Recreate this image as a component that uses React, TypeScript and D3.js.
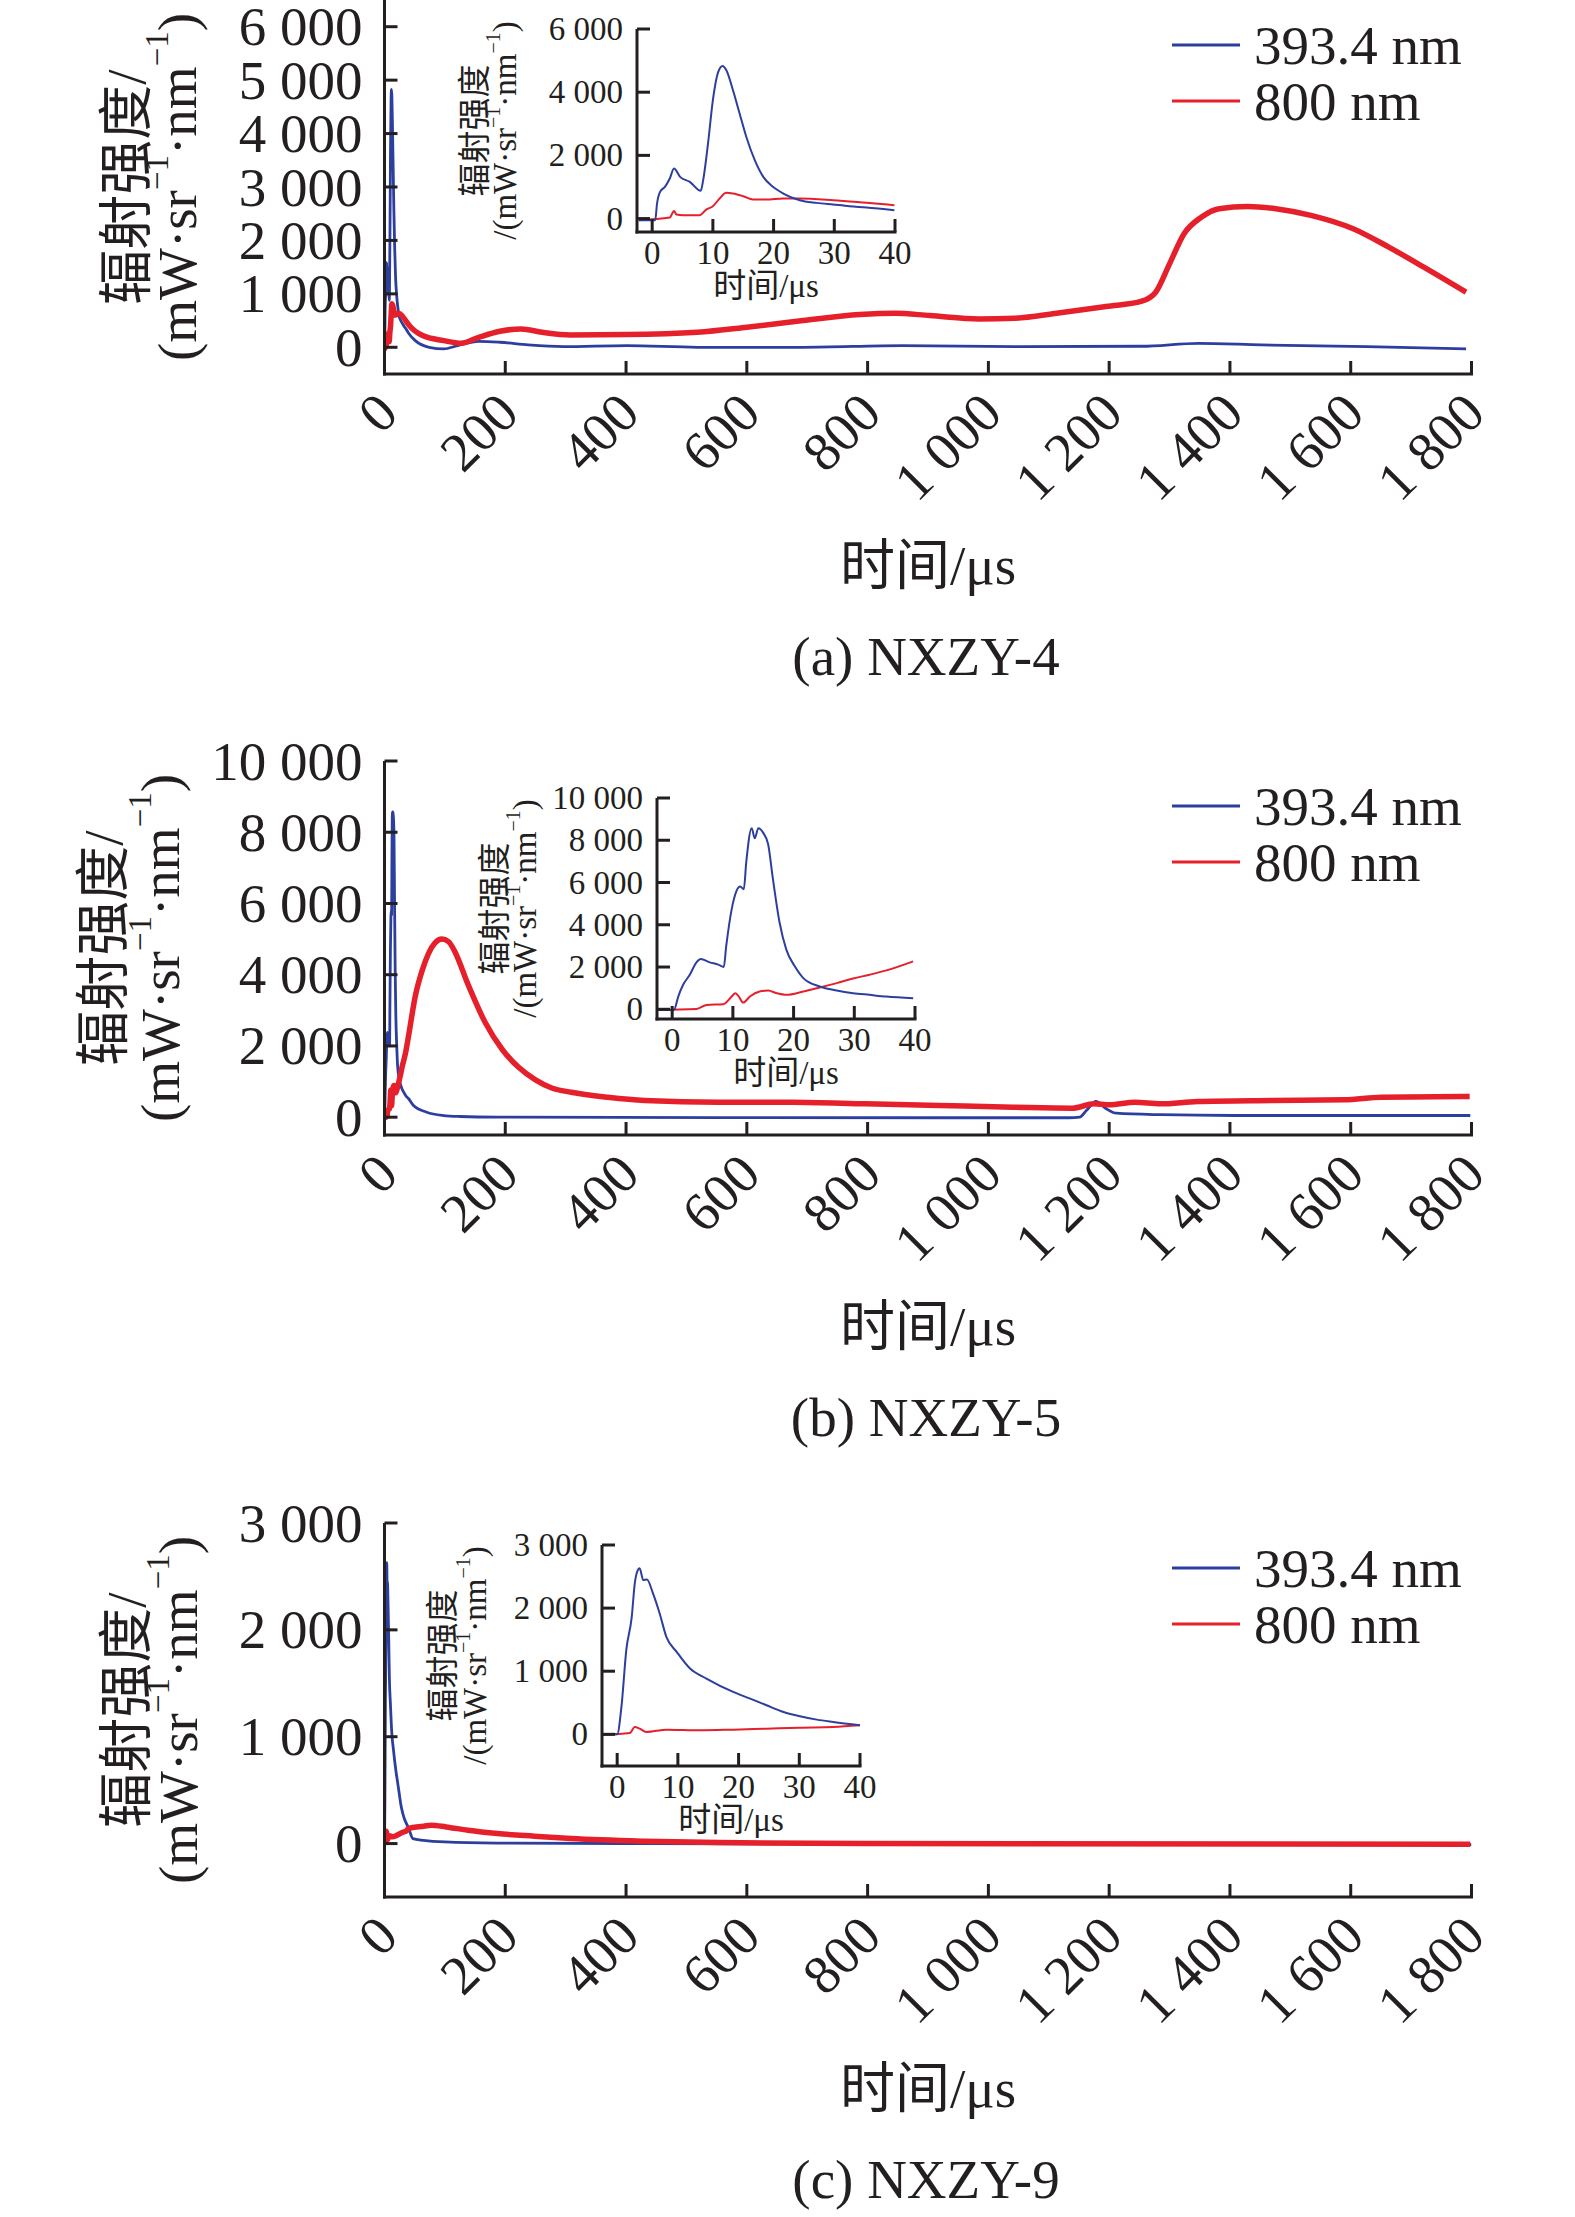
import React from 'react'
import * as d3 from 'd3'

type Pt = [number, number]

const BLUE = '#2d3f9e'
const RED = '#e5202b'
const INK = '#231f20'
const FONT = '"Liberation Serif", "Times New Roman", "Noto Sans CJK SC", serif'

// labels
const legendLabels = ['393.4 nm', '800 nm']
const captions = ['(a) NXZY-4', '(b) NXZY-5', '(c) NXZY-9']
const xTitle = '时间/μs'
const mainXTicks = [0, 200, 400, 600, 800, 1000, 1200, 1400, 1600, 1800]
const insetXTicks = [0, 10, 20, 30, 40]
const mainYTicksA = [0, 1000, 2000, 3000, 4000, 5000, 6000]
const mainYTicksB = [0, 2000, 4000, 6000, 8000, 10000]
const mainYTicksC = [0, 1000, 2000, 3000]
const insetYTicksA = [0, 2000, 4000, 6000]
const insetYTicksB = [0, 2000, 4000, 6000, 8000, 10000]
const insetYTicksC = [0, 1000, 2000, 3000]

// NXZY-4, first 40 us (inset), [time us, intensity]
const insetBlueA: Pt[] = [[-2.2, -50], [0.5, -50], [0.8, 475], [1.3, 845], [2.1, 1004], [2.9, 1268], [3.6, 1585], [4.6, 1320], [6.2, 1162], [8.0, 877], [8.4, 1215], [9.2, 2377], [10.0, 3750], [10.9, 4649], [11.6, 4828], [12.2, 4700], [13.3, 4068], [14.4, 3328], [15.5, 2589], [16.9, 1849], [18.3, 1320], [19.9, 1004], [21.6, 792], [24.3, 581], [27.1, 497], [29.8, 444], [32.5, 391], [35.3, 349], [39.9, 264]]
const insetRedA: Pt[] = [[-2.2, -50], [2.9, 32], [3.3, 158], [3.6, 243], [4.0, 127], [5.1, 106], [7.8, 106], [8.9, 285], [10.0, 391], [11.1, 634], [12.2, 814], [13.3, 792], [15.0, 708], [16.6, 602], [18.8, 602], [21.6, 634], [24.3, 634], [29.8, 581], [35.3, 497], [39.9, 423]]
// NXZY-4, rest of the record
const tailBlueA: Pt[] = [[51, 125], [74, 0], [98, -31], [121, 31], [156, 112], [191, 94], [238, 44], [296, 12], [401, 31], [518, 0], [693, 0], [857, 31], [1044, 12], [1254, 19], [1348, 75], [1452, 44], [1627, 12], [1791, -31]]
const tailRedA: Pt[] = [[63, 219], [98, 125], [127, 75], [156, 187], [191, 300], [226, 344], [261, 281], [308, 231], [401, 237], [518, 281], [600, 375], [693, 500], [787, 612], [845, 637], [903, 594], [985, 531], [1044, 544], [1113, 637], [1195, 762], [1254, 862], [1277, 1031], [1300, 1562], [1324, 2125], [1353, 2437], [1382, 2594], [1429, 2637], [1476, 2594], [1534, 2469], [1604, 2219], [1663, 1875], [1721, 1500], [1791, 1031]]

// NXZY-5
const insetBlueB: Pt[] = [[-2.6, -30], [0.3, -30], [1.0, 603], [1.8, 1159], [2.9, 1635], [4.0, 2222], [4.7, 2381], [6.2, 2222], [7.6, 2111], [8.5, 2000], [8.9, 2984], [9.8, 4730], [10.6, 5603], [11.2, 5810], [11.8, 5683], [12.2, 6952], [13.1, 8571], [13.6, 8095], [14.2, 8571], [15.0, 8349], [15.8, 7825], [16.6, 6159], [17.7, 4095], [18.8, 2825], [20.2, 2032], [21.6, 1476], [24.3, 1079], [27.1, 889], [29.8, 762], [32.5, 683], [35.3, 603], [39.7, 524]]
const insetRedB: Pt[] = [[-2.6, -30], [4.0, 16], [5.7, 206], [8.4, 238], [9.8, 603], [10.4, 762], [10.9, 635], [11.7, 317], [12.8, 603], [14.4, 841], [15.8, 889], [17.2, 762], [18.8, 683], [21.6, 841], [24.3, 1032], [27.1, 1238], [29.8, 1460], [32.5, 1635], [35.3, 1841], [39.7, 2270]]
const tailBlueB: Pt[] = [[48, 328], [70, 140], [98, 47], [125, 19], [187, 0], [553, -10], [919, -15], [1133, -15], [1151, 0], [1163, 200], [1178, 440], [1194, 250], [1212, 112], [1285, 70], [1407, 47], [1798, 47]]
const tailRedB: Pt[] = [[51, 3400], [62, 4100], [73, 4600], [84, 4900], [95, 5000], [106, 4930], [115, 4700], [139, 3700], [167, 2650], [195, 1900], [222, 1400], [250, 1050], [277, 820], [309, 700], [370, 560], [431, 470], [553, 421], [675, 421], [797, 375], [919, 328], [1041, 281], [1139, 253], [1175, 375], [1200, 346], [1243, 421], [1285, 375], [1346, 440], [1468, 468], [1590, 487], [1651, 562], [1797, 580]]

// NXZY-9
const insetBlueC: Pt[] = [[-2.3, -5], [0, 0], [0.7, 434], [1.5, 1333], [2.4, 1862], [2.9, 2392], [3.3, 2577], [3.7, 2630], [4.3, 2444], [4.9, 2455], [5.9, 2233], [7.0, 1915], [8.1, 1545], [9.8, 1307], [12.0, 1042], [14.7, 884], [19.1, 672], [21.9, 566], [24.6, 460], [27.4, 354], [30.1, 286], [32.9, 233], [35.6, 196], [40, 143]]
const insetRedC: Pt[] = [[-2.3, -5], [2.1, 21], [2.9, 116], [3.7, 90], [4.8, 37], [8.1, 74], [13.6, 63], [19.1, 74], [24.6, 90], [30.1, 106], [35.6, 116], [40, 143]]
const tailBlueC: Pt[] = [[47, 47], [65, 30], [100, 15], [187, 5], [431, 0], [800, -5], [1800, -10]]
const tailRedC: Pt[] = [[65, 162], [77, 172], [102, 156], [138, 125], [187, 94], [248, 69], [309, 47], [431, 22], [553, 9], [797, 0], [1798, -6]]

const fmt = (v: number) => d3.format(',')(v).replace(/,/g, ' ')

interface InsetCfg {
  left: number
  right: number
  top: number
  bottom: number
  yDomain: [number, number]
  yTicks: number[]
  titleDx: [number, number]
}

interface PanelCfg {
  top: number
  yDomain: [number, number]
  yTicks: number[]
  titleX: [number, number]
  inset: InsetCfg
  blueInset: Pt[]
  redInset: Pt[]
  blueTail: Pt[]
  redTail: Pt[]
  caption: string
}

const panels: PanelCfg[] = [
  {
    top: 0, yDomain: [-500, 6500], yTicks: mainYTicksA, titleX: [126, 177],
    inset: { left: 637, right: 895, top: 29, bottom: 232, yDomain: [-425, 6000], yTicks: insetYTicksA, titleDx: [-162, -132] },
    blueInset: insetBlueA, redInset: insetRedA, blueTail: tailBlueA, redTail: tailRedA, caption: captions[0]
  },
  {
    top: 761, yDomain: [-500, 10000], yTicks: mainYTicksB, titleX: [103, 160],
    inset: { left: 657, right: 915, top: 798, bottom: 1019, yDomain: [-460, 10000], yTicks: insetYTicksB, titleDx: [-162, -132] },
    blueInset: insetBlueB, redInset: insetRedB, blueTail: tailBlueB, redTail: tailRedB, caption: captions[1]
  },
  {
    top: 1523, yDomain: [-500, 3000], yTicks: mainYTicksC, titleX: [126, 178],
    inset: { left: 602, right: 860, top: 1545, bottom: 1766, yDomain: [-502, 3000], yTicks: insetYTicksC, titleDx: [-159, -127] },
    blueInset: insetBlueC, redInset: insetRedC, blueTail: tailBlueC, redTail: tailRedC, caption: captions[2]
  }
]

const X0 = 384.5
const X1 = 1471.5
const PH = 374
const TICK = 13

const UnitText = ({ size, lead }: { size: number; lead: string }) => {
  const s = Math.round(size * 0.6)
  const d = Math.round(size * 0.36)
  return (
    <>
      {lead}(mW·sr
      <tspan fontSize={s} dy={-d}>−1</tspan>
      <tspan dy={d}>·nm</tspan>
      <tspan fontSize={s} dy={-d}>−1</tspan>
      <tspan dy={d}>)</tspan>
    </>
  )
}

const Panel = ({ cfg, idx }: { cfg: PanelCfg; idx: number }) => {
  const bottom = cfg.top + PH
  const x = d3.scaleLinear().domain([0, 1800]).range([X0, X1])
  const y = d3.scaleLinear().domain(cfg.yDomain).range([bottom, cfg.top])
  const line = d3.line<Pt>().x(d => x(d[0])).y(d => y(d[1])).curve(d3.curveMonotoneX)

  const ins = cfg.inset
  const ix = d3.scaleLinear().domain([-2.5, 40]).range([ins.left, ins.right])
  const iy = d3.scaleLinear().domain(ins.yDomain).range([ins.bottom, ins.top])
  const iline = d3.line<Pt>().x(d => ix(d[0])).y(d => iy(d[1])).curve(d3.curveMonotoneX)

  const blue = [...cfg.blueInset, ...cfg.blueTail]
  const red = [...cfg.redInset, ...cfg.redTail]
  const clipId = `clip-${idx}`
  const cy = cfg.top + PH / 2
  const icy = (ins.top + ins.bottom) / 2
  const midX = (X0 + X1) / 2

  return (
    <g>
      <defs>
        <clipPath id={clipId}>
          <rect x={X0} y={cfg.top} width={X1 - X0} height={PH} />
        </clipPath>
      </defs>

      {/* main curves */}
      <g clipPath={`url(#${clipId})`}>
        <path d={line(blue) ?? ''} fill="none" stroke={BLUE} strokeWidth={2.8} strokeLinejoin="round" />
        <path d={line(red) ?? ''} fill="none" stroke={RED} strokeWidth={5.5} strokeLinejoin="round" />
      </g>

      {/* main axes */}
      <g stroke={INK} strokeWidth={3} fill="none">
        <line x1={X0} x2={X0} y1={cfg.top} y2={bottom + 1.5} />
        <line x1={X0 - 1.5} x2={X1 + 1.5} y1={bottom} y2={bottom} />
        {cfg.yTicks.map(v => (
          <line key={v} x1={X0} x2={X0 + TICK} y1={y(v)} y2={y(v)} />
        ))}
        {mainXTicks.filter(v => v > 0).map(v => (
          <line key={v} x1={x(v)} x2={x(v)} y1={bottom} y2={bottom - TICK} />
        ))}
      </g>
      <g fontFamily={FONT} fontSize={55} fill={INK}>
        {cfg.yTicks.map(v => (
          <text key={v} x={X0 - 22} y={y(v)} textAnchor="end" dominantBaseline="central">{fmt(v)}</text>
        ))}
        {mainXTicks.map(v => (
          <text key={v} transform={`translate(${x(v) + 16},${bottom + 42}) rotate(-45)`} textAnchor="end">{fmt(v)}</text>
        ))}
        <text transform={`translate(${cfg.titleX[0]},${cy}) rotate(-90)`} textAnchor="middle" dominantBaseline="central">辐射强度/</text>
        <text transform={`translate(${cfg.titleX[1]},${cy}) rotate(-90)`} textAnchor="middle" dominantBaseline="central">
          <UnitText size={55} lead="" />
        </text>
        <text x={midX} y={bottom + 191} textAnchor="middle" dominantBaseline="central">{xTitle}</text>
        <text x={midX - 2} y={bottom + 282} textAnchor="middle" dominantBaseline="central">{cfg.caption}</text>
      </g>

      {/* legend */}
      {legendLabels.map((lab, i) => {
        const ly = cfg.top + 45 + i * 56
        return (
          <g key={lab}>
            <line x1={1172} x2={1240} y1={ly} y2={ly} stroke={i === 0 ? BLUE : RED} strokeWidth={3} />
            <text x={1254} y={ly} fontFamily={FONT} fontSize={55} fill={INK} dominantBaseline="central">{lab}</text>
          </g>
        )
      })}

      {/* inset */}
      <path d={iline(cfg.redInset) ?? ''} fill="none" stroke={RED} strokeWidth={2} strokeLinejoin="round" />
      <path d={iline(cfg.blueInset) ?? ''} fill="none" stroke={BLUE} strokeWidth={2} strokeLinejoin="round" />
      <g stroke={INK} strokeWidth={3} fill="none">
        <line x1={ins.left} x2={ins.left} y1={ins.top} y2={ins.bottom + 1.5} />
        <line x1={ins.left - 1.5} x2={ins.right + 1.5} y1={ins.bottom} y2={ins.bottom} />
        {ins.yTicks.map(v => (
          <line key={v} x1={ins.left} x2={ins.left + TICK} y1={iy(v)} y2={iy(v)} />
        ))}
        {insetXTicks.map(v => (
          <line key={v} x1={ix(v)} x2={ix(v)} y1={ins.bottom} y2={ins.bottom - TICK} />
        ))}
      </g>
      <g fontFamily={FONT} fontSize={33} fill={INK}>
        {ins.yTicks.map(v => (
          <text key={v} x={ins.left - 14} y={iy(v)} textAnchor="end" dominantBaseline="central">{fmt(v)}</text>
        ))}
        {insetXTicks.map(v => (
          <text key={v} x={ix(v)} y={ins.bottom + 21} textAnchor="middle" dominantBaseline="central">{v}</text>
        ))}
        <text x={(ins.left + ins.right) / 2} y={ins.bottom + 54} textAnchor="middle" dominantBaseline="central">{xTitle}</text>
        <text transform={`translate(${ins.left + ins.titleDx[0]},${icy}) rotate(-90)`} textAnchor="middle" dominantBaseline="central">辐射强度</text>
        <text transform={`translate(${ins.left + ins.titleDx[1]},${icy}) rotate(-90)`} textAnchor="middle" dominantBaseline="central">
          <UnitText size={33} lead="/" />
        </text>
      </g>
    </g>
  )
}

export default function App() {
  return (
    <div>
      <style>{'body{margin:0;background:#fff}'}</style>
      <svg width={1575} height={2217} viewBox="0 0 1575 2217" style={{ display: 'block' }}>
        <rect width={1575} height={2217} fill="#fff" />
        {panels.map((p, i) => (
          <Panel key={i} cfg={p} idx={i} />
        ))}
      </svg>
    </div>
  )
}
